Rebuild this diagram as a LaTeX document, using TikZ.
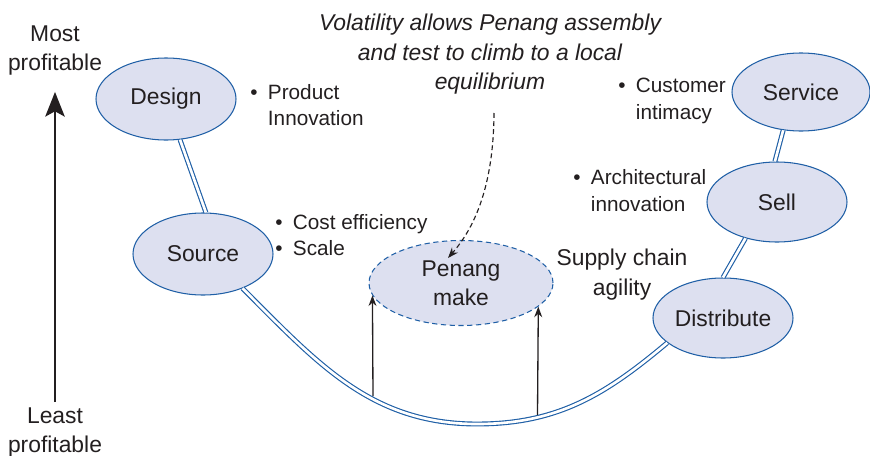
\documentclass[tikz,border=0pt]{standalone}
\usepackage{fontspec}
\setmainfont{Liberation Sans}
\usetikzlibrary{arrows.meta,positioning,calc,shapes.geometric}
\definecolor{rimblue}{HTML}{1F5FA6}
\definecolor{cellfill}{HTML}{DDE0F0}
\definecolor{ink}{HTML}{231F20}

\begin{document}
\begin{tikzpicture}[>=Stealth,font=\fontsize{13}{16.5}\selectfont,text=ink]
\tikzstyle{stage}=[ellipse,draw=rimblue,fill=cellfill,line width=0.6pt,minimum width=2.8cm,minimum height=1.64cm,inner sep=0pt]
\tikzstyle{pts}=[align=left,anchor=west,font=\fontsize{11.8}{15}\selectfont,inner sep=0pt]
\tikzstyle{chain}=[draw=rimblue,double=white,double distance=1.5pt,line width=0.65pt]
\tikzstyle{lift}=[-{Stealth[length=6pt,width=4.5pt]},line width=0.75pt,draw=ink]
\useasboundingbox (0,0) rectangle (17.4,-9.12);
% profit scale
\node[align=center] (most) at (1.1,-1.02) {Most\\profitable};
\node[align=center] (least) at (1.1,-8.66) {Least\\profitable};
\draw[-{Stealth[length=14pt,width=11pt,inset=3pt]},line width=1.5pt,draw=ink,shorten >=0.2cm] (least.north) -- (most.south);
% value chain stages
\node[stage] (design) at (3.32,-1.98) {Design};
\node[stage] (source) at (4.06,-5.08) {Source};
\node[stage,dashed,dash pattern=on 3pt off 2pt,minimum width=3.68cm,minimum height=1.7cm,align=center] (penang) at (9.22,-5.66) {Penang\\make};
\node[stage,minimum width=2.76cm,minimum height=1.56cm] (service) at (16.02,-1.84) {Service};
\node[stage,minimum height=1.6cm] (sell) at (15.54,-4.04) {Sell};
\node[stage,minimum height=1.6cm] (distribute) at (14.46,-6.36) {Distribute};
% bullet points
\node[pts] (designpts) at (5.0,-2.1) {\textbullet\enspace Product\\\hphantom{\textbullet\enspace}Innovation};
\node[pts] (sourcepts) at (5.5,-4.7) {\textbullet\enspace Cost efficiency\\\textbullet\enspace Scale};
\node[pts] (servicepts) at (12.36,-2.02) {\textbullet\enspace Customer\\\hphantom{\textbullet\enspace}intimacy};
\node[pts] (sellpts) at (11.46,-3.81) {\textbullet\enspace Architectural\\\hphantom{\textbullet\enspace}innovation};
\node[align=center,font=\fontsize{13}{17}\selectfont] (agility) at (12.44,-5.5) {Supply chain\\agility};
\node[align=center,font=\fontsize{13}{16.8}\selectfont\itshape] (note) at (9.8,-1.09) {Volatility allows Penang assembly\\and test to climb to a local\\equilibrium};
% smile curve
\coordinate (bottom) at (9.54,-8.48);
\draw[chain] (design.-71) -- (source.86);
\draw[chain] (source.-41) to[out=-45,in=180] (bottom) to[out=0,in=-140] (distribute.204);
\draw[chain] (distribute.90) -- (sell.-131);
\draw[chain] (sell.93) -- (service.-115);
% climbing arrows
\coordinate (lift1) at (7.46,-7.92);
\coordinate (lift2) at (10.75,-8.3);
\draw[lift] (lift1) -- (penang.188);
\draw[lift] (lift2) -- (penang.-17);
\coordinate (tail) at (9.88,-2.26);
\coordinate (head) at (8.96,-5.16);
\draw[lift,dashed,dash pattern=on 2.8pt off 1.8pt,line width=0.65pt] (tail) .. controls (9.87,-3.8) and (9.45,-4.6) .. (head);
\end{tikzpicture}
\end{document}
